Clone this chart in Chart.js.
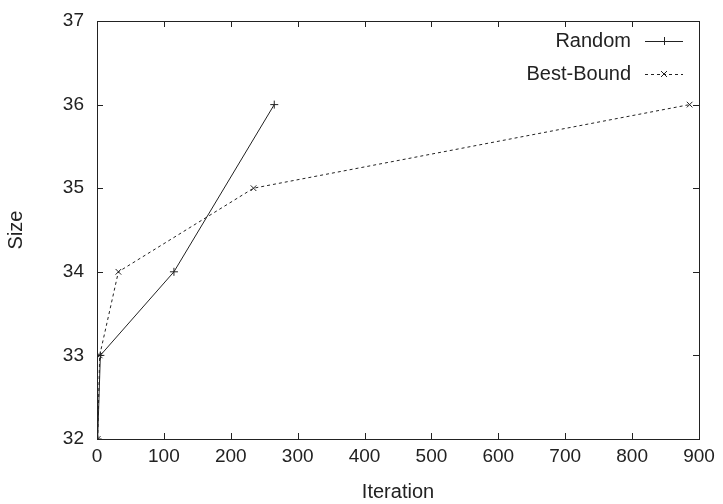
<!DOCTYPE html>
<html lang="en">
<head>
    <meta charset="UTF-8">
    <title>Size vs Iteration</title>
    <script src="https://cdn.jsdelivr.net/npm/chart.js"></script>
    <style>
        body { margin: 0; background: white; }
        canvas { display: block; }
    </style>
</head>
<body>
    <canvas id="chart" width="723" height="504"></canvas>
    <script>
        // values
        const randomIter = [1, 5, 115, 265];
        const randomSize = [32, 33, 34, 36];
        const boundIter = [1, 4, 32, 234, 886];
        const boundSize = [32, 33, 34, 35, 36];
        const seriesNames = ['Random', 'Best-Bound'];

        const FONT = '"Liberation Sans", Arial, sans-serif';
        const INK = '#222';

        const toPoints = (xs, ys) => xs.map((x, i) => ({ x: x, y: ys[i] }));

        // frame + inward ticks + legend drawn inside the plot, gnuplot style
        const framePlugin = {
            id: 'frame',
            afterDraw(chart) {
                const ctx = chart.ctx;
                const a = chart.chartArea;
                const xs = chart.scales.x, ys = chart.scales.y;
                ctx.save();
                ctx.strokeStyle = INK;
                ctx.lineWidth = 1;
                ctx.strokeRect(a.left + 0.5, a.top + 0.5, a.right - a.left, a.bottom - a.top);
                const t = 6;
                ctx.beginPath();
                xs.ticks.forEach(tk => {
                    const px = Math.round(xs.getPixelForValue(tk.value)) + 0.5;
                    ctx.moveTo(px, a.bottom); ctx.lineTo(px, a.bottom - t);
                    ctx.moveTo(px, a.top); ctx.lineTo(px, a.top + t);
                });
                ys.ticks.forEach(tk => {
                    const py = Math.round(ys.getPixelForValue(tk.value)) + 0.5;
                    ctx.moveTo(a.left, py); ctx.lineTo(a.left + t, py);
                    ctx.moveTo(a.right, py); ctx.lineTo(a.right - t, py);
                });
                ctx.stroke();

                // legend
                ctx.font = '20px ' + FONT;
                ctx.fillStyle = INK;
                ctx.textAlign = 'right';
                ctx.textBaseline = 'middle';
                chart.data.datasets.forEach((ds, i) => {
                    const y = a.top + 20 + i * 33;
                    ctx.fillText(seriesNames[i], a.right - 68, y);
                    ctx.setLineDash(ds.borderDash || []);
                    ctx.beginPath();
                    ctx.moveTo(a.right - 54, y + 0.5);
                    ctx.lineTo(a.right - 16, y + 0.5);
                    ctx.stroke();
                    ctx.setLineDash([]);
                    const cx = a.right - 35;
                    ctx.beginPath();
                    if (ds.pointStyle === 'cross') {
                        ctx.moveTo(cx - 4, y + 0.5); ctx.lineTo(cx + 4, y + 0.5);
                        ctx.moveTo(cx + 0.5, y - 4); ctx.lineTo(cx + 0.5, y + 4);
                    } else {
                        ctx.moveTo(cx - 3, y - 3); ctx.lineTo(cx + 3, y + 3);
                        ctx.moveTo(cx + 3, y - 3); ctx.lineTo(cx - 3, y + 3);
                    }
                    ctx.stroke();
                });
                ctx.restore();
            }
        };

        new Chart(document.getElementById('chart').getContext('2d'), {
            type: 'scatter',
            data: {
                datasets: [{
                    label: seriesNames[0],
                    data: toPoints(randomIter, randomSize),
                    showLine: true,
                    borderColor: INK,
                    backgroundColor: INK,
                    borderWidth: 1,
                    pointStyle: 'cross',
                    pointRadius: 4,
                    pointBorderWidth: 1
                }, {
                    label: seriesNames[1],
                    data: toPoints(boundIter, boundSize),
                    showLine: true,
                    borderColor: INK,
                    backgroundColor: INK,
                    borderWidth: 1,
                    borderDash: [3, 3],
                    pointStyle: 'crossRot',
                    pointRadius: 4,
                    pointBorderWidth: 1
                }]
            },
            options: {
                responsive: false,
                animation: false,
                layout: { padding: { left: 0, top: 21, right: 24, bottom: 0 } },
                plugins: { legend: { display: false }, tooltip: { enabled: false } },
                scales: {
                    x: {
                        type: 'linear',
                        min: 0, max: 900,
                        border: { display: false },
                        grid: { display: false, drawTicks: false },
                        ticks: { stepSize: 100, color: INK, padding: 6, font: { family: FONT, size: 19 }, maxRotation: 0 },
                        title: { display: true, text: 'Iteration', color: INK, font: { family: FONT, size: 20 }, padding: { top: 0, bottom: 0 } },
                        afterFit: s => { s.height = 65; }
                    },
                    y: {
                        min: 32, max: 37,
                        border: { display: false },
                        grid: { display: false, drawTicks: false },
                        ticks: { stepSize: 1, color: INK, padding: 13, font: { family: FONT, size: 19, lineHeight: 0.8 } },
                        title: { display: true, text: 'Size', color: INK, font: { family: FONT, size: 20 }, padding: { bottom: 12 } },
                        afterFit: s => { s.width = 97; }
                    }
                }
            },
            plugins: [framePlugin]
        });
    </script>
</body>
</html>
